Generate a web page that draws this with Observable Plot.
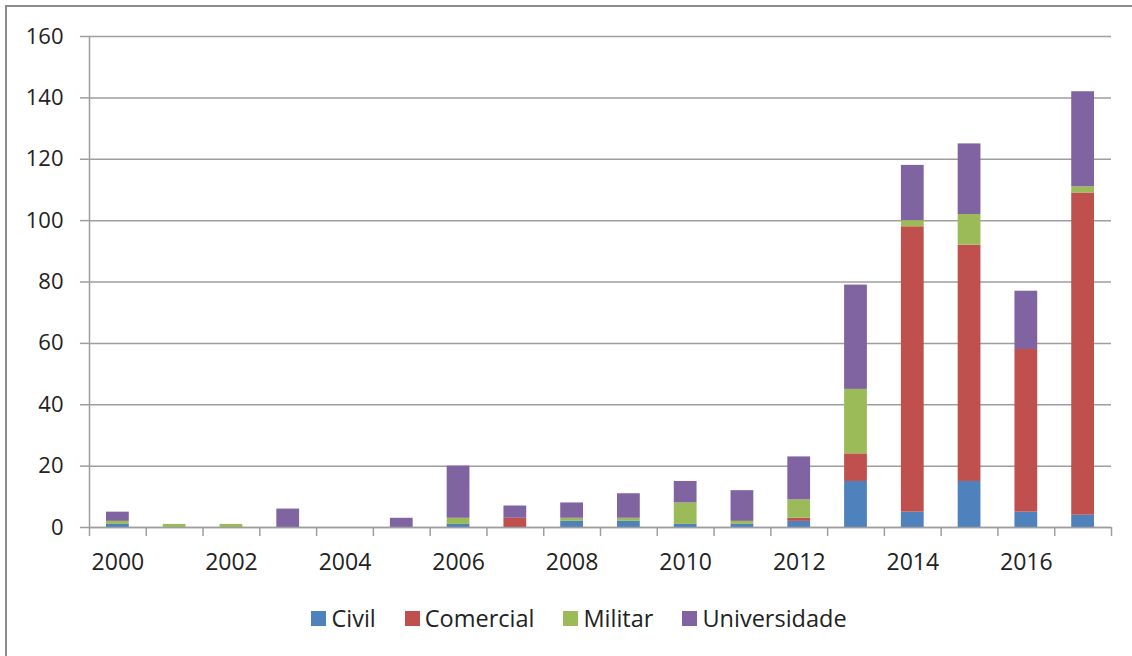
<!DOCTYPE html>
<html>
<head>
<meta charset="utf-8">
<script src="https://cdn.jsdelivr.net/npm/d3@7"></script>
<script src="https://cdn.jsdelivr.net/npm/@observablehq/plot@0.6"></script>
<style>
  html, body { margin: 0; padding: 0; background: #fff; }
  body { width: 1132px; height: 656px; overflow: hidden; position: relative; font-family: "Open Sans", sans-serif; }
  #frame { position: absolute; left: 5px; top: 5px; width: 1200px; height: 700px;
           border-left: 2px solid #8c8c8c; border-top: 2px solid #8c8c8c; pointer-events: none; }
  #chart { position: absolute; left: 0; top: 0; }
  #legend { position: absolute; left: 13px; top: 603px; width: 1132px; height: 30px;
            display: flex; justify-content: center; align-items: center; gap: 29px;
            font-size: 23.5px; color: #222; }
  #legend .item { display: flex; align-items: center; gap: 5px; }
  #legend .sw { width: 15px; height: 15px; display: inline-block; }
</style>
</head>
<body>
<div id="chart"></div>
<div id="legend"></div>
<div id="frame"></div>
<script>
// Annual counts by sector, 2000–2017
const years = d3.range(2000, 2018);
const series = ["Civil", "Comercial", "Militar", "Universidade"];
const colors = ["#4F81BD", "#C0504D", "#9BBB59", "#8064A2"];

const civil        = [1, 0, 0, 0, 0, 0,  1, 0, 2, 2, 1,  1,  2, 15,  5, 15,  5,   4];
const comercial    = [0, 0, 0, 0, 0, 0,  0, 3, 0, 0, 0,  0,  1,  9, 93, 77, 53, 105];
const militar      = [1, 1, 1, 0, 0, 0,  2, 0, 1, 1, 7,  1,  6, 21,  2, 10,  0,   2];
const universidade = [3, 0, 0, 6, 0, 3, 17, 4, 5, 8, 7, 10, 14, 34, 18, 23, 19,  31];

const yTicks = d3.range(0, 161, 20);
const xLabels = d3.range(2000, 2018, 2);

const values = [civil, comercial, militar, universidade];
const rows = series.flatMap((s, i) => years.map((year, j) => ({year, series: s, value: values[i][j]})));

const font = "Open Sans, sans-serif";
const gray = "#9e9e9e";

const chart = Plot.plot({
  width: 1132,
  height: 590,
  marginLeft: 89,
  marginRight: 21,
  marginTop: 36,
  marginBottom: 63,
  style: {fontFamily: font, fontSize: "22px", color: "#222", background: "white"},
  x: {type: "linear", domain: [2000, 2018], axis: null, label: null},
  y: {domain: [0, 160], axis: null, label: null},
  color: {domain: series, range: colors},
  marks: [
    Plot.gridY(yTicks, {stroke: gray, strokeOpacity: 1, strokeWidth: 1.5}),
    Plot.axisY({ticks: yTicks, tickSize: 9, tickPadding: 17, stroke: gray, strokeWidth: 1.5,
                fill: "#222", fontSize: 22, label: null, tickFormat: d => String(d)}),
    Plot.ruleX([2000], {stroke: gray, strokeWidth: 1.5}),
    Plot.rectY(rows, {x: "year", interval: 1, y: "value", fill: "series",
                      insetLeft: 17, insetRight: 17}),
    Plot.ruleY([0], {stroke: gray, strokeWidth: 1.5}),
    // category boundary ticks along the baseline
    Plot.axisX({ticks: d3.range(2000, 2019), tickSize: 9, stroke: gray, strokeWidth: 1.5,
                label: null, tickFormat: () => ""}),
    // year labels centred under every second category
    Plot.text(xLabels, {x: d => d + 0.5, y: 0, dy: 35, text: d => String(d),
                        fontSize: 23, fill: "#222", lineAnchor: "middle"})
  ]
});
document.getElementById("chart").appendChild(chart);

// legend row
const legend = d3.select("#legend");
series.forEach((s, i) => {
  const item = legend.append("div").attr("class", "item");
  item.append("span").attr("class", "sw").style("background", colors[i]);
  item.append("span").text(s);
});
</script>
</body>
</html>
